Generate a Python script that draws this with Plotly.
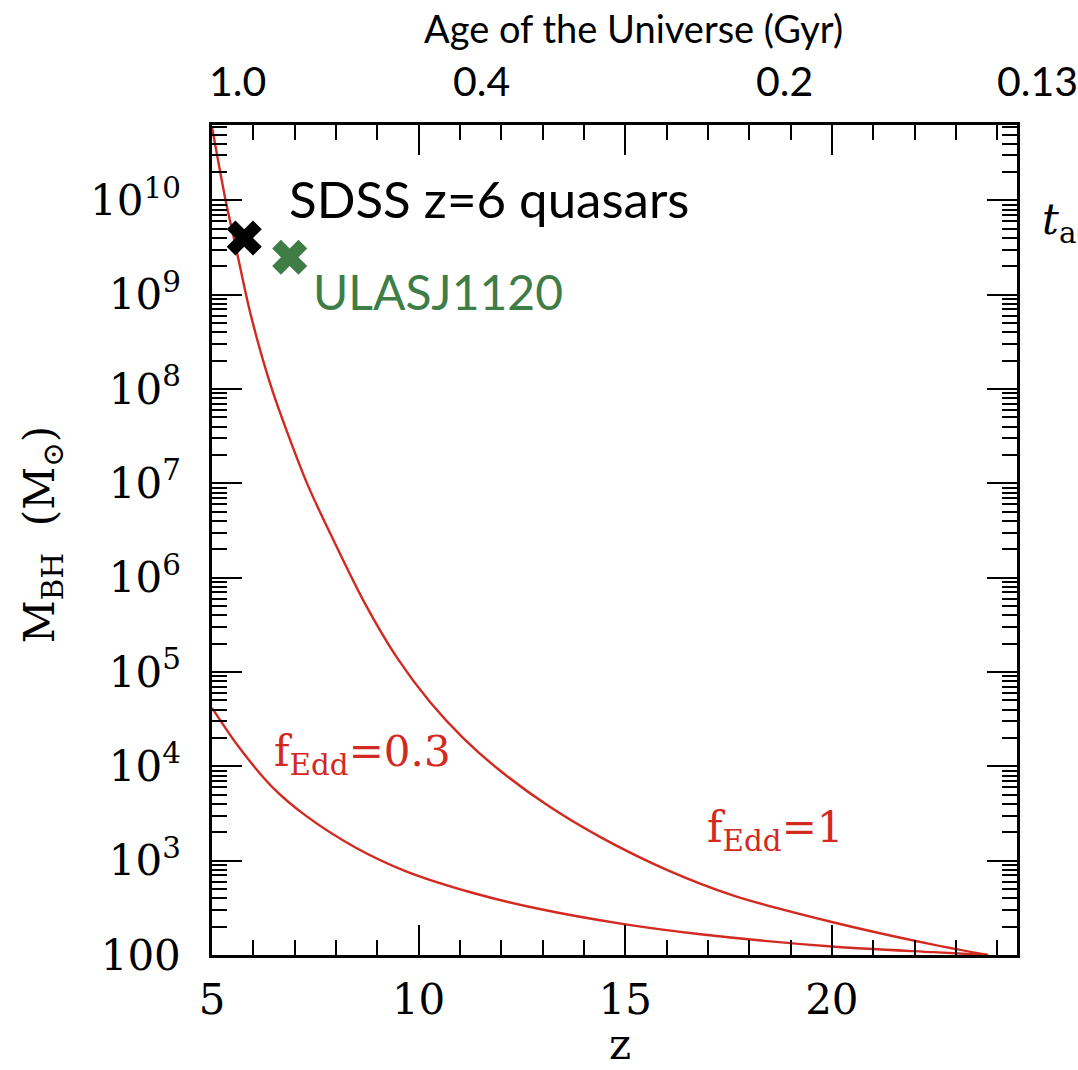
import plotly.graph_objects as go

# ---------------- data ----------------
# f_Edd = 1 growth track (redshift, log10 M_BH)
z_edd1 = [5.00, 5.33, 5.57, 5.93, 6.45, 7.30, 7.86, 8.66, 9.48, 10.28, 11.08,
          11.90, 13.11, 14.40, 16.02, 17.62, 20.00, 22.45, 23.78]
logm_edd1 = [10.78, 10.00, 9.52, 8.80, 8.00, 7.00, 6.47, 5.76, 5.15, 4.68, 4.30,
             3.98, 3.59, 3.25, 2.90, 2.63, 2.35, 2.11, 2.00]

# f_Edd = 0.3 growth track
z_edd03 = [5.00, 5.64, 6.46, 7.26, 8.47, 9.68, 11.30, 12.90, 14.93,
           16.82, 20.00, 22.45, 23.78]
logm_edd03 = [4.62, 4.21, 3.78, 3.48, 3.14, 2.89, 2.66, 2.49, 2.33,
              2.22, 2.09, 2.03, 2.00]

# observed quasars
sdss_z = [5.78]
sdss_m = [4.0e9]
ulas_z = [6.88]
ulas_m = [2.5e9]

# axis ticks
x_range = [5, 24.48]
x_major = [5, 10, 15, 20]
x_minor = [6, 7, 8, 9, 11, 12, 13, 14, 16, 17, 18, 19, 21, 22, 23, 24]
y_exponents = [2, 3, 4, 5, 6, 7, 8, 9, 10]
y_ticktext = ["100", "10<sup>3</sup>", "10<sup>4</sup>", "10<sup>5</sup>", "10<sup>6</sup>",
              "10<sup>7</sup>", "10<sup>8</sup>", "10<sup>9</sup>", "10<sup>10</sup>"]

# top "age of the Universe" labels (Gyr) and the redshift they sit over
age_labels = ["1.0", "0.4", "0.2", "0.13"]
age_label_z = [5.61, 11.52, 18.85, 24.97]

RED = "#d22a20"
GREEN = "#3f7d47"
SERIF = "DejaVu Serif"
SANS = "Lato"

m_edd1 = [10 ** v for v in logm_edd1]
m_edd03 = [10 ** v for v in logm_edd03]
y_major = [10 ** e for e in y_exponents]
y_minor = [k * 10 ** e for e in range(2, 11) for k in range(2, 10)]

fig = go.Figure()
fig.add_trace(go.Scatter(x=z_edd1, y=m_edd1, mode="lines",
                         line=dict(color=RED, width=2.4, shape="spline", smoothing=0.8),
                         showlegend=False))
fig.add_trace(go.Scatter(x=z_edd03, y=m_edd03, mode="lines",
                         line=dict(color=RED, width=2.4, shape="spline", smoothing=0.8),
                         showlegend=False))
fig.add_trace(go.Scatter(x=sdss_z, y=sdss_m, mode="markers",
                         marker=dict(symbol="x", size=31, color="black", line=dict(width=0)),
                         showlegend=False))
fig.add_trace(go.Scatter(x=ulas_z, y=ulas_m, mode="markers",
                         marker=dict(symbol="x", size=31, color=GREEN, line=dict(width=0)),
                         showlegend=False))

fig.update_xaxes(
    range=x_range, showline=True, linecolor="black", linewidth=2.5, mirror="allticks",
    ticks="inside", ticklen=30, tickwidth=2.2, tickcolor="black",
    tickvals=x_major, ticktext=[str(v) for v in x_major],
    tickfont=dict(family=SERIF, size=42, color="black"), ticklabelstandoff=6,
    minor=dict(tickvals=x_minor, ticks="inside", ticklen=15, tickwidth=2.2, tickcolor="black"),
    showgrid=False, zeroline=False,
)
fig.update_yaxes(
    type="log", range=[2, 10.80], showline=True, linecolor="black", linewidth=2.5, mirror="allticks",
    ticks="inside", ticklen=30, tickwidth=2.2, tickcolor="black",
    tickvals=y_major, ticktext=y_ticktext,
    tickfont=dict(family=SERIF, size=42, color="black"), ticklabelstandoff=20,
    minor=dict(tickvals=y_minor, ticks="inside", ticklen=15, tickwidth=2.0, tickcolor="black"),
    showgrid=False, zeroline=False,
)

ann = []
ann.append(dict(text="Age of the Universe (Gyr)", xref="paper", yref="paper", x=0.523, y=1.117,
                xanchor="center", yanchor="middle", showarrow=False,
                font=dict(family=SANS, size=38, color="black")))
for lab, zz in zip(age_labels, age_label_z):
    px = (zz - x_range[0]) / (x_range[1] - x_range[0])
    ann.append(dict(text=lab, xref="paper", yref="paper", x=px, y=1.054, xanchor="center",
                    yanchor="middle", showarrow=False,
                    font=dict(family=SANS, size=41, color="black")))
ann.append(dict(text="SDSS z=6 quasars", xref="paper", yref="paper", x=0.093, y=0.912,
                xanchor="left", yanchor="middle", showarrow=False,
                font=dict(family=SANS, size=51, color="black")))
ann.append(dict(text="ULASJ1120", xref="paper", yref="paper", x=0.1235, y=0.799,
                xanchor="left", yanchor="middle", showarrow=False,
                font=dict(family=SANS, size=48, color=GREEN)))
ann.append(dict(text="f<sub>Edd</sub>=0.3", xref="paper", yref="paper", x=0.0745, y=0.241,
                xanchor="left", yanchor="middle", showarrow=False,
                font=dict(family=SERIF, size=42, color=RED)))
ann.append(dict(text="f<sub>Edd</sub>=1", xref="paper", yref="paper", x=0.612, y=0.150,
                xanchor="left", yanchor="middle", showarrow=False,
                font=dict(family=SERIF, size=42, color=RED)))
ann.append(dict(text="M<sub>BH</sub>  (M<sub>⊙</sub>)", xref="paper", yref="paper", x=-0.211, y=0.506,
                xanchor="center", yanchor="middle", textangle=-90, showarrow=False,
                font=dict(family=SERIF, size=42, color="black")))
ann.append(dict(text="z", xref="paper", yref="paper", x=0.507, y=-0.1386,
                xanchor="center", yanchor="bottom", showarrow=False, borderpad=0,
                font=dict(family=SERIF, size=42, color="black")))
ann.append(dict(text="<i>t</i><sub>acc</sub>", xref="paper", yref="paper", x=1.0286, y=0.882,
                xanchor="left", yanchor="middle", showarrow=False,
                font=dict(family=SERIF, size=42, color="black")))

fig.update_layout(
    width=1078, height=1070,
    margin=dict(l=212, r=61, t=125, b=115),
    paper_bgcolor="white", plot_bgcolor="white",
    annotations=ann,
)

fig.write_html("out.html")
